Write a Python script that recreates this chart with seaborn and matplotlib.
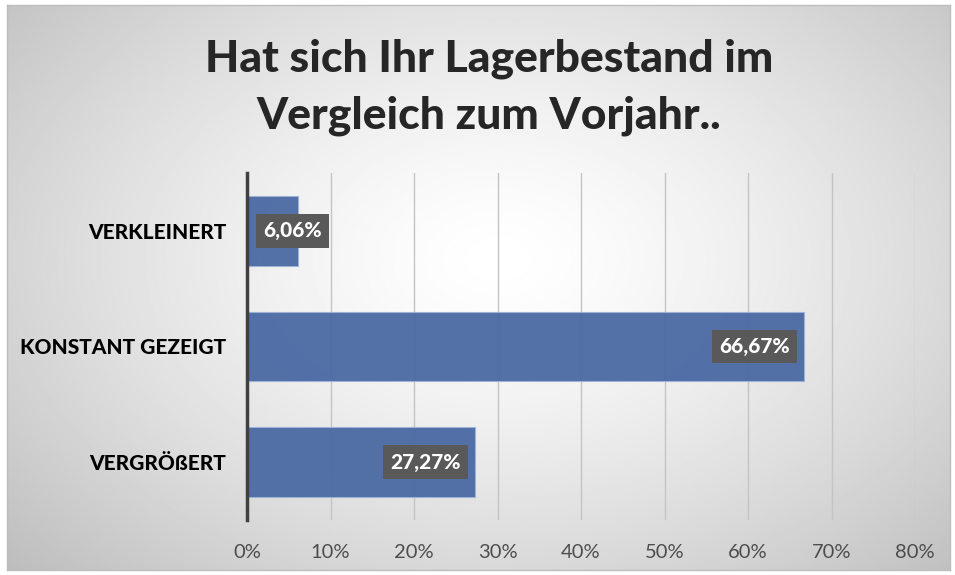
import numpy as np
import matplotlib
matplotlib.use("Agg")
import matplotlib.pyplot as plt
import seaborn as sns

# Daten
kategorien = ["VERKLEINERT", "KONSTANT GEZEIGT", "VERGRÖßERT"]
anteile = [6.06, 66.67, 27.27]
x_ticks = [0, 10, 20, 30, 40, 50, 60, 70, 80]
titel = "Hat sich Ihr Lagerbestand im\nVergleich zum Vorjahr.."

sns.set_style("white")
plt.rcParams["font.family"] = ["Lato", "DejaVu Sans"]

fig = plt.figure(figsize=(9.55, 5.75), dpi=100)
fig.patch.set_facecolor("white")

# Hintergrund mit radialem Verlauf
bg = fig.add_axes([7 / 955, 5 / 575, 943 / 955, 565 / 575], zorder=-5)
yy, xx = np.mgrid[0:1:300j, 0:1:500j]
r = np.sqrt(((xx - 0.52) / 0.75) ** 2 + ((yy - 0.45) / 0.85) ** 2)
shade = np.clip(1 - 0.28 * r ** 1.4, 0, 1)
bg.imshow(shade, cmap="gray", vmin=0, vmax=1, extent=[0, 1, 0, 1], aspect="auto")
bg.set_xticks([])
bg.set_yticks([])
for s in bg.spines.values():
    s.set_color("#bdbdbd")
    s.set_linewidth(1)

ax = fig.add_axes([247 / 955, 1 - 520 / 575, 668 / 955, 347 / 575])
ax.patch.set_alpha(0)

sns.barplot(x=anteile, y=kategorien, color="#4a69a3", width=0.6, ax=ax,
            saturation=1, edgecolor="#9fb3d6", linewidth=0.8, alpha=0.95)

ax.set_xlim(0, 80)
ax.set_ylim(2.5, -0.5)
ax.set_xticks(x_ticks)
ax.set_xticklabels([f"{t}%" for t in x_ticks], fontsize=14.5, color="#4d4d4d")
ax.tick_params(axis="x", length=0, pad=17)
ax.tick_params(axis="y", length=0, pad=15)
for lbl in ax.get_yticklabels():
    lbl.set_fontsize(15)
    lbl.set_fontweight("black")
    lbl.set_color("black")
ax.set_xlabel("")
ax.set_ylabel("")

ax.grid(axis="x", color="#c4c4c4", linewidth=1)
ax.set_axisbelow(True)
for name in ["top", "right", "bottom"]:
    ax.spines[name].set_visible(False)
ax.spines["left"].set_color("#404040")
ax.spines["left"].set_linewidth(2.5)

# Datenbeschriftungen
for i, v in enumerate(anteile):
    text = f"{v:.2f}%".replace(".", ",")
    if v < 15:
        xpos, ha = 1.9, "left"
    else:
        xpos, ha = v - 1.7, "right"
    ax.text(xpos, i, text, ha=ha, va="center", color="white", fontsize=15,
            fontweight="black",
            bbox=dict(boxstyle="square,pad=0.35", facecolor="#595959", edgecolor="none"))

fig.text(489 / 955, 1 - 87 / 575, titel, ha="center", va="center",
         fontsize=32, fontweight="black", linespacing=1.5)

fig.savefig("out.png", dpi=100)
